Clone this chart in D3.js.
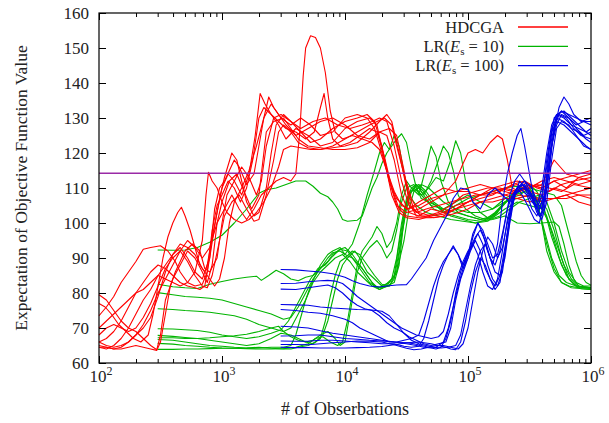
<!DOCTYPE html>
<html>
<head>
<meta charset="utf-8">
<script src="https://cdnjs.cloudflare.com/ajax/libs/d3/7.8.5/d3.min.js"></script>
<style>
  body { margin: 0; background: #fff; }
  svg { display: block; }
</style>
</head>
<body>
<div id="chart"></div>
<script>
// every run is a list of [log10(# of observations), expected objective value]
const hdcgaRuns = [
  [[2.0,73.5],[2.06,76],[2.12,79],[2.18,83],[2.24,86],[2.3,89],[2.36,92.5],[2.42,93],[2.5,93.5],[2.56,92],[2.62,89],[2.66,86],[2.72,83],[2.78,82],[2.84,82.5],[2.88,86],[2.92,98],[2.96,105],[3.0,108],[3.05,112],[3.1,110],[3.15,106],[3.2,110],[3.25,118],[3.3,130],[3.34,133],[3.4,131],[3.46,128],[3.52,124],[3.6,127],[3.7,125],[3.8,122],[3.9,123],[4.0,127],[4.1,129],[4.2,130],[4.26,128],[4.32,118],[4.38,108],[4.44,103],[4.5,101.5],[4.6,101],[4.7,102],[4.8,103],[4.9,105],[5.0,106],[5.1,108],[5.2,109],[5.3,110],[5.4,109],[5.5,111],[5.6,110],[5.7,112],[5.8,110],[5.9,113],[6.0,112]],
  [[2.0,79.5],[2.06,78],[2.12,75],[2.18,72],[2.24,70],[2.3,69],[2.36,67],[2.42,65],[2.47,63.8],[2.5,68],[2.54,78],[2.6,84],[2.66,88],[2.72,92],[2.78,90],[2.84,86],[2.88,83],[2.92,88],[2.96,100],[3.0,106],[3.06,112],[3.12,114],[3.18,109],[3.24,104],[3.3,108],[3.36,126],[3.42,129],[3.5,130],[3.56,127],[3.62,124],[3.7,122],[3.8,121.5],[3.9,121],[4.0,121],[4.1,121.5],[4.2,123],[4.28,126],[4.34,125],[4.4,118],[4.46,108],[4.52,103],[4.6,102],[4.7,104],[4.8,103],[4.9,104],[5.0,106],[5.1,107],[5.2,108],[5.3,110],[5.4,111],[5.5,109],[5.6,108],[5.7,110],[5.8,109],[5.9,108],[6.0,107]],
  [[2.0,77],[2.05,76],[2.1,74],[2.16,71],[2.22,69],[2.28,67],[2.34,66],[2.4,68],[2.44,74],[2.48,82],[2.52,90],[2.56,96],[2.6,100],[2.64,103],[2.67,104.5],[2.7,102],[2.74,98],[2.78,93],[2.82,88],[2.86,86],[2.9,90],[2.94,99],[2.98,107],[3.02,113],[3.08,120],[3.12,118],[3.16,112],[3.2,106],[3.26,102],[3.3,103],[3.36,110],[3.4,120],[3.44,128],[3.5,131],[3.56,129],[3.64,126],[3.72,123],[3.8,124],[3.9,127],[4.0,129],[4.1,130],[4.18,131],[4.24,129],[4.3,122],[4.36,112],[4.42,105],[4.5,103],[4.6,104],[4.7,106],[4.8,108],[4.9,109],[5.0,109],[5.1,108],[5.2,110],[5.3,109],[5.4,108],[5.5,107.5],[5.6,107],[5.7,107],[5.8,108],[5.9,109],[6.0,110]],
  [[2.0,66],[2.06,65],[2.12,64.5],[2.18,65],[2.24,66],[2.3,68],[2.36,71],[2.42,75],[2.48,80],[2.54,84],[2.6,88],[2.66,92],[2.72,95],[2.78,93],[2.84,90],[2.9,93],[2.96,100],[3.02,104],[3.08,108],[3.14,104],[3.2,101],[3.26,104],[3.32,108],[3.38,110],[3.44,112],[3.5,113],[3.56,112],[3.6,114],[3.63,125],[3.66,142],[3.68,150],[3.72,153.5],[3.76,153],[3.8,150],[3.84,143],[3.88,132],[3.92,126],[3.98,124],[4.06,125],[4.14,124],[4.22,123],[4.28,121],[4.34,115],[4.4,109],[4.46,105],[4.52,104],[4.6,106],[4.7,108],[4.8,110],[4.9,109],[5.0,110],[5.1,111],[5.2,110],[5.3,111],[5.4,112],[5.5,111],[5.6,110],[5.7,112],[5.8,113],[5.9,114],[6.0,115]],
  [[2.0,64.5],[2.06,64],[2.12,65],[2.18,67],[2.24,70],[2.3,74],[2.36,78],[2.42,81],[2.48,85],[2.54,88],[2.6,91],[2.66,93],[2.72,90],[2.78,86],[2.84,84],[2.88,88],[2.92,96],[2.96,103],[3.0,110],[3.05,114],[3.1,112],[3.16,108],[3.22,114],[3.27,125],[3.31,137],[3.35,134],[3.4,131],[3.46,129],[3.52,127],[3.6,126],[3.68,124],[3.75,126],[3.8,133],[3.83,137],[3.86,130],[3.9,124],[3.96,122],[4.04,123],[4.12,125],[4.2,127],[4.26,126],[4.32,119],[4.38,110],[4.44,104],[4.5,102],[4.6,101.5],[4.7,101.5],[4.8,102],[4.9,104],[5.0,106],[5.1,108],[5.2,109],[5.3,108],[5.4,109],[5.5,110],[5.6,111],[5.7,118],[5.75,116],[5.8,114],[5.9,113],[6.0,114]],
  [[2.0,65],[2.06,64.5],[2.12,64],[2.18,64.5],[2.24,66],[2.3,68],[2.36,70],[2.42,73],[2.48,79],[2.54,86],[2.6,91],[2.66,94],[2.72,93],[2.78,91],[2.84,87],[2.9,84],[2.94,82],[2.98,84],[3.02,90],[3.06,100],[3.1,106],[3.16,110],[3.22,115],[3.28,122],[3.34,130],[3.4,134],[3.46,131],[3.52,128],[3.6,125],[3.7,127],[3.8,129],[3.9,130],[4.0,128],[4.1,125],[4.2,124],[4.28,126],[4.36,127],[4.42,125],[4.48,115],[4.52,106],[4.58,102],[4.66,102],[4.76,103],[4.86,105],[4.96,108],[5.06,109],[5.16,110],[5.26,110],[5.36,109],[5.46,110],[5.56,111],[5.66,110],[5.76,109],[5.86,111],[6.0,110]],
  [[2.0,68],[2.06,70],[2.12,71],[2.18,70],[2.24,69],[2.3,70],[2.36,73],[2.42,77],[2.48,82],[2.54,87],[2.6,90],[2.66,92],[2.72,89],[2.78,85],[2.84,82],[2.88,81.5],[2.92,85],[2.98,95],[3.02,102],[3.08,106],[3.14,108],[3.2,104],[3.26,100.5],[3.3,101],[3.36,108],[3.42,118],[3.46,126],[3.5,128],[3.56,126],[3.62,123],[3.7,121.5],[3.8,121],[3.9,121.5],[4.0,122],[4.1,123],[4.2,126],[4.28,129],[4.34,131],[4.38,129],[4.44,120],[4.5,110],[4.56,104],[4.62,102],[4.72,101.5],[4.82,102],[4.92,103],[5.0,104],[5.1,106],[5.2,107],[5.3,108],[5.4,107],[5.5,108],[5.6,106],[5.7,107],[5.8,108],[5.9,106],[6.0,105]],
  [[2.0,66],[2.06,67],[2.12,69],[2.18,72],[2.24,76],[2.3,80],[2.36,83],[2.42,86],[2.48,88],[2.54,87],[2.6,85],[2.66,83],[2.72,82],[2.78,81.5],[2.82,81],[2.86,82],[2.9,90],[2.94,104],[2.98,110],[3.02,112],[3.06,115],[3.1,118],[3.14,116],[3.2,111],[3.26,114],[3.3,122],[3.34,130],[3.38,136],[3.42,133],[3.48,130],[3.56,128],[3.64,130],[3.72,128],[3.8,125],[3.9,126],[4.0,130],[4.1,131],[4.18,130],[4.24,127],[4.3,120],[4.36,112],[4.42,107],[4.5,104],[4.6,105],[4.7,107],[4.8,108],[4.9,112],[4.96,117],[5.0,120],[5.06,121],[5.12,120],[5.18,123],[5.24,125],[5.28,124],[5.32,118],[5.36,110],[5.42,109],[5.5,110],[5.6,112],[5.7,113],[5.8,112],[5.9,111],[6.0,112]],
  [[2.0,64.5],[2.06,64.5],[2.12,64],[2.18,64],[2.24,64.5],[2.3,65],[2.36,64.5],[2.42,64],[2.47,63.6],[2.5,66],[2.54,74],[2.58,82],[2.62,86],[2.66,89],[2.7,92],[2.76,94],[2.82,92],[2.86,87],[2.9,86],[2.96,90],[3.0,100],[3.04,108],[3.1,112],[3.16,116],[3.22,113],[3.28,108],[3.32,112],[3.36,122],[3.42,130],[3.48,131],[3.56,129],[3.64,127],[3.74,129],[3.84,130],[3.94,128],[4.04,127],[4.14,128],[4.22,129],[4.28,130],[4.34,129],[4.4,122],[4.46,112],[4.52,105],[4.58,103],[4.66,104],[4.76,105],[4.86,106],[4.96,107],[5.06,108],[5.16,108],[5.26,109],[5.36,111],[5.46,112],[5.56,110],[5.66,109],[5.76,111],[5.86,112],[6.0,113]],
  [[2.0,70],[2.06,72],[2.12,74],[2.18,76],[2.24,78],[2.3,80],[2.36,81],[2.42,83],[2.48,85],[2.54,84],[2.6,83],[2.66,82],[2.72,83],[2.78,86],[2.84,95],[2.87,108],[2.89,114.5],[2.92,112],[2.96,110],[3.0,106],[3.04,103],[3.1,101],[3.16,100],[3.22,101],[3.28,103],[3.34,106],[3.4,110],[3.46,116],[3.5,121],[3.56,122],[3.64,121.5],[3.72,121],[3.8,121],[3.9,122],[4.0,124],[4.1,126],[4.2,128],[4.26,129],[4.32,130],[4.38,128],[4.42,122],[4.48,114],[4.54,107],[4.6,103],[4.7,102],[4.8,102.5],[4.9,104],[5.0,105],[5.1,106],[5.2,106],[5.3,107],[5.4,107],[5.5,106],[5.6,107],[5.7,107],[5.8,107],[5.9,108],[6.0,108]]
];

const lr10Runs = [
  [[2.477,92.3],[2.6,92.2],[2.7,92.3],[2.8,93],[2.9,94.5],[3.0,96.5],[3.1,100],[3.2,104],[3.3,108.5],[3.36,109.5],[3.44,110],[3.52,111],[3.6,112],[3.68,112],[3.74,110.5],[3.8,108.5],[3.86,107.5],[3.9,106],[3.94,104],[3.98,101],[4.02,100.5],[4.1,100.8],[4.14,102],[4.18,106],[4.22,110],[4.26,113],[4.3,117],[4.34,120],[4.38,122],[4.42,124],[4.46,125.5],[4.5,123],[4.54,116],[4.58,110],[4.62,107],[4.68,106],[4.74,105],[4.8,103],[4.9,102],[5.0,101],[5.1,100.5],[5.2,101],[5.3,102],[5.4,100],[5.5,99.8],[5.6,100],[5.7,100.3],[5.74,99],[5.78,94],[5.82,88],[5.86,84],[5.9,82],[5.95,81.5],[6.0,81.5]],
  [[2.477,82.5],[2.6,81.8],[2.7,81.5],[2.8,81.3],[2.9,82.5],[3.0,83.3],[3.1,84],[3.2,84.5],[3.28,84.8],[3.32,83.6],[3.38,85],[3.44,86.5],[3.5,85.5],[3.56,84],[3.62,83.5],[3.68,84.5],[3.74,85],[3.8,87],[3.86,89],[3.9,91],[3.96,92.5],[4.0,93],[4.06,91],[4.12,88],[4.18,85],[4.24,82],[4.3,81.5],[4.36,82],[4.4,84],[4.44,92],[4.48,102],[4.52,108],[4.56,110],[4.6,111],[4.66,109],[4.72,106],[4.8,104],[4.9,103],[5.0,102],[5.1,101],[5.2,102],[5.28,105],[5.36,108],[5.44,110],[5.5,111],[5.56,109],[5.62,104],[5.68,96],[5.74,90],[5.8,85],[5.86,82.5],[5.92,81.2],[6.0,81]],
  [[2.477,80.1],[2.6,79.5],[2.7,79],[2.8,78.8],[2.9,78.5],[3.0,78],[3.1,77],[3.2,76],[3.3,75],[3.4,74],[3.5,72.5],[3.56,73],[3.62,76],[3.68,80],[3.74,84],[3.8,87],[3.86,90],[3.9,91.5],[3.96,92],[4.0,91],[4.06,94],[4.12,100],[4.18,108],[4.24,115],[4.28,120],[4.32,123],[4.36,121],[4.4,125],[4.44,122],[4.48,114],[4.52,108],[4.58,105],[4.66,103],[4.76,102],[4.86,101],[4.96,100.5],[5.06,100],[5.16,101],[5.26,104],[5.34,107],[5.42,108],[5.5,110],[5.56,107],[5.6,100],[5.64,92],[5.7,86],[5.76,83],[5.82,82],[5.9,81.5],[6.0,81.5]],
  [[2.477,75.5],[2.6,75.3],[2.7,75],[2.8,74.8],[2.9,74.5],[3.0,74],[3.1,73.5],[3.2,72.5],[3.3,71],[3.4,70],[3.5,69],[3.56,70],[3.62,74],[3.68,78],[3.74,83],[3.8,86],[3.86,88],[3.92,90],[3.98,91],[4.04,89],[4.1,86],[4.16,84],[4.22,82],[4.28,81],[4.34,82],[4.4,83],[4.44,88],[4.47,98],[4.5,106],[4.54,110],[4.58,111],[4.64,108],[4.7,112],[4.76,118],[4.8,122],[4.84,120],[4.88,115],[4.92,108],[4.98,104],[5.06,102],[5.14,101],[5.22,103],[5.3,106],[5.38,108],[5.46,109],[5.52,108],[5.58,106],[5.64,102],[5.7,95],[5.76,88],[5.82,84],[5.88,82],[5.94,81.5],[6.0,81.2]],
  [[2.477,69.8],[2.6,69.7],[2.7,69.5],[2.8,69.3],[2.9,68.8],[3.0,68],[3.1,67.5],[3.2,67],[3.3,67.5],[3.4,68.5],[3.48,69.5],[3.54,72],[3.6,76],[3.66,80],[3.72,84],[3.78,87],[3.84,88],[3.9,90.5],[3.96,92.5],[4.02,92],[4.08,89],[4.14,86],[4.2,83],[4.26,81.5],[4.32,82],[4.38,84],[4.42,90],[4.46,100],[4.5,107],[4.56,110],[4.62,108],[4.68,110],[4.74,113],[4.8,112],[4.86,118],[4.9,123.5],[4.94,120],[4.98,112],[5.04,106],[5.1,103],[5.18,101],[5.26,102],[5.34,104],[5.42,106],[5.5,107],[5.58,108],[5.64,106],[5.7,100],[5.76,92],[5.82,86],[5.88,83],[5.94,82],[6.0,82]],
  [[2.477,67.9],[2.6,67.6],[2.7,67.3],[2.8,67],[2.9,66.5],[3.0,66],[3.1,65.5],[3.2,65],[3.3,65.5],[3.4,67],[3.48,68.5],[3.56,68],[3.62,67],[3.68,66],[3.74,65.5],[3.8,67],[3.84,72],[3.88,79],[3.92,85],[3.96,89],[4.0,90],[4.06,92],[4.12,91],[4.18,88],[4.24,85],[4.3,82.5],[4.36,82],[4.42,86],[4.46,96],[4.5,104],[4.54,109],[4.6,110],[4.66,107],[4.72,104],[4.8,103],[4.9,105],[5.0,107],[5.1,108],[5.2,109],[5.3,110],[5.4,110.5],[5.5,109],[5.56,106],[5.62,98],[5.68,90],[5.74,85],[5.8,83],[5.88,82],[6.0,81.5]],
  [[2.477,66.7],[2.6,66.5],[2.7,66],[2.8,65.5],[2.9,65],[3.0,64.8],[3.1,64.5],[3.2,64.3],[3.3,64.3],[3.4,64.5],[3.5,64.5],[3.56,65],[3.6,68],[3.64,73],[3.68,78],[3.72,82],[3.76,85],[3.8,88],[3.86,91],[3.9,92],[3.96,93],[4.0,91],[4.06,90],[4.14,87],[4.22,83],[4.28,81],[4.34,82],[4.4,85],[4.44,94],[4.48,103],[4.52,108],[4.58,111],[4.64,109],[4.7,106],[4.78,104],[4.86,102],[4.96,101],[5.06,100],[5.16,100.5],[5.24,103],[5.3,106],[5.38,108],[5.46,110],[5.52,109],[5.58,103],[5.64,94],[5.7,87],[5.76,83],[5.84,81.5],[6.0,81]],
  [[2.477,65.6],[2.6,65.4],[2.7,65],[2.8,64.8],[2.9,64.5],[3.0,64.3],[3.1,64.2],[3.2,64.3],[3.3,64.5],[3.4,64.2],[3.5,64],[3.56,64],[3.62,64.5],[3.7,65],[3.76,66],[3.82,68],[3.86,72],[3.9,78],[3.94,84],[3.98,88],[4.02,90],[4.08,92],[4.12,90],[4.18,86],[4.24,84],[4.3,82],[4.36,83],[4.42,86],[4.48,95],[4.52,104],[4.56,109],[4.62,111],[4.68,110],[4.74,108],[4.8,106],[4.9,104],[5.0,103],[5.1,103],[5.2,104],[5.3,106],[5.4,107],[5.5,108],[5.58,107],[5.64,104],[5.7,98],[5.76,90],[5.82,84],[5.88,82],[6.0,81.5]],
  [[2.477,63.9],[2.6,63.9],[2.7,64],[2.8,64],[2.9,64.1],[3.0,64.2],[3.1,64.2],[3.2,64.1],[3.3,64],[3.4,64],[3.5,64.1],[3.6,64.5],[3.7,65.5],[3.76,67],[3.82,67.5],[3.88,66],[3.94,65],[3.98,66],[4.02,72],[4.06,80],[4.1,88],[4.14,92],[4.18,94],[4.22,96],[4.26,99],[4.3,97],[4.34,93],[4.38,95],[4.42,100],[4.46,108],[4.5,112],[4.54,110],[4.6,108],[4.66,116],[4.7,122],[4.74,119],[4.78,112],[4.84,106],[4.92,103],[5.0,102],[5.1,101],[5.2,101.5],[5.3,104],[5.4,106],[5.5,105],[5.6,104],[5.66,100],[5.72,94],[5.78,88],[5.84,84],[5.9,82],[6.0,81.5]],
  [[2.477,67.2],[2.6,67.2],[2.7,67],[2.8,67],[2.9,67.2],[3.0,67.5],[3.1,67.8],[3.2,68.2],[3.3,69],[3.4,70],[3.46,70.5],[3.5,69],[3.56,67.5],[3.62,66.5],[3.68,66],[3.74,66.5],[3.8,68],[3.86,69],[3.92,67],[3.96,65],[4.0,66],[4.02,70],[4.06,78],[4.1,86],[4.14,90],[4.2,93],[4.26,95],[4.3,93],[4.34,90],[4.38,92],[4.42,98],[4.46,106],[4.5,110],[4.56,111],[4.62,108],[4.7,105],[4.8,104],[4.9,106],[5.0,108],[5.1,106],[5.2,104],[5.3,107],[5.4,109],[5.5,110],[5.6,109],[5.7,108],[5.76,105],[5.82,97],[5.88,89],[5.92,85],[5.96,83],[6.0,82.2]]
];

const lr100Runs = [
  [[3.477,86.7],[3.6,86.6],[3.7,86.3],[3.8,86],[3.9,85.5],[4.0,84.5],[4.06,83.5],[4.12,82.7],[4.2,82],[4.28,81.7],[4.34,82],[4.42,82.3],[4.5,82.4],[4.54,84],[4.6,87],[4.66,90],[4.72,95],[4.78,99],[4.84,103],[4.88,107],[4.94,110],[5.0,109.5],[5.04,106],[5.1,104],[5.16,108],[5.22,110],[5.28,108],[5.34,106],[5.4,110],[5.46,111],[5.5,108],[5.56,105],[5.6,110],[5.64,120],[5.68,128],[5.72,131],[5.78,130],[5.84,128],[5.9,127],[5.96,126],[6.0,125]],
  [[3.477,82.7],[3.6,82.8],[3.7,83.2],[3.8,83.5],[3.86,83.6],[3.92,83.4],[3.98,82.7],[4.04,81],[4.1,79],[4.16,77.5],[4.22,76],[4.28,74.5],[4.34,73],[4.4,71.5],[4.46,70],[4.52,69],[4.58,68],[4.64,67.5],[4.7,67],[4.76,67.5],[4.8,69],[4.84,74],[4.88,80],[4.92,85],[4.96,89],[5.0,92],[5.04,94],[5.08,91],[5.12,86],[5.16,82],[5.2,81],[5.24,84],[5.28,92],[5.32,101],[5.36,107],[5.42,110],[5.48,108],[5.52,104],[5.56,102],[5.6,106],[5.64,118],[5.68,127],[5.72,130],[5.78,129],[5.84,127],[5.9,126],[5.96,124],[6.0,123]],
  [[3.477,81.1],[3.6,81],[3.7,81.5],[3.8,82],[3.86,82.3],[3.92,81.5],[3.98,80],[4.04,78],[4.1,76.5],[4.16,75.5],[4.22,75],[4.28,73.5],[4.34,71.5],[4.4,70],[4.46,69],[4.52,67.5],[4.58,66.5],[4.64,65.5],[4.7,65],[4.76,65.5],[4.82,66],[4.86,70],[4.9,78],[4.94,84],[4.98,88],[5.02,92],[5.06,95],[5.1,92],[5.14,87],[5.18,84],[5.22,82],[5.26,85],[5.3,93],[5.34,102],[5.38,109],[5.44,111],[5.5,109],[5.56,106],[5.6,104],[5.64,110],[5.68,122],[5.72,128],[5.76,131],[5.82,130],[5.88,128],[5.94,129],[6.0,128]],
  [[3.477,76.7],[3.6,76.6],[3.7,76.5],[3.8,76],[3.9,75.7],[4.0,75.5],[4.1,75.3],[4.2,75.2],[4.3,74.8],[4.36,73.5],[4.42,71],[4.48,68.5],[4.54,66.5],[4.6,65.5],[4.66,65],[4.72,64.5],[4.78,64.3],[4.84,64.5],[4.9,65],[4.94,68],[4.98,75],[5.02,82],[5.06,88],[5.1,92],[5.14,94],[5.18,90],[5.22,86],[5.26,85],[5.3,90],[5.34,100],[5.38,108],[5.42,112],[5.46,110],[5.52,106],[5.58,104],[5.62,108],[5.66,118],[5.7,126],[5.74,133],[5.78,136],[5.82,134],[5.86,131],[5.92,129],[6.0,130]],
  [[3.477,75.3],[3.6,75],[3.7,74.5],[3.8,74.2],[3.9,73.5],[4.0,72.5],[4.06,71.5],[4.12,70],[4.18,69],[4.24,68],[4.3,67],[4.36,66],[4.42,66],[4.48,66.5],[4.54,67],[4.6,68],[4.64,72],[4.68,77],[4.72,82],[4.76,86],[4.8,89],[4.84,91],[4.88,93],[4.92,91],[4.96,88],[5.0,91],[5.04,97],[5.08,100],[5.12,98],[5.16,94],[5.2,90],[5.24,91],[5.28,97],[5.32,104],[5.36,108],[5.4,110],[5.44,108],[5.5,104],[5.54,101],[5.58,100],[5.62,107],[5.66,121],[5.7,130],[5.76,132],[5.82,130],[5.88,127],[5.94,125],[6.0,126]],
  [[3.477,70.5],[3.6,70.3],[3.7,70],[3.8,69.2],[3.9,68.5],[4.0,68],[4.1,67.5],[4.2,67],[4.3,66.5],[4.4,66],[4.5,65.8],[4.56,65.5],[4.62,65],[4.68,64.5],[4.74,64.5],[4.8,66],[4.84,70],[4.88,76],[4.92,82],[4.96,87],[5.0,91],[5.04,94],[5.08,97],[5.12,94],[5.16,88],[5.2,84],[5.24,82],[5.28,86],[5.32,96],[5.36,105],[5.4,110],[5.46,112],[5.52,110],[5.56,106],[5.6,104],[5.64,112],[5.68,124],[5.72,131],[5.78,132],[5.84,130],[5.9,128],[5.96,126],[6.0,127]],
  [[3.477,67.7],[3.6,67.8],[3.7,68],[3.8,68],[3.9,67.5],[4.0,67],[4.1,66.8],[4.2,66.5],[4.3,66.3],[4.4,66],[4.5,65.5],[4.58,65],[4.64,64.5],[4.7,64.3],[4.74,64],[4.78,64.5],[4.82,67],[4.86,72],[4.9,80],[4.94,86],[4.98,90],[5.02,93],[5.06,96],[5.1,98],[5.14,95],[5.18,90],[5.22,88],[5.26,92],[5.3,100],[5.34,108],[5.38,112],[5.42,114],[5.46,112],[5.52,108],[5.56,104],[5.6,108],[5.64,116],[5.68,126],[5.72,129],[5.78,128],[5.84,126],[5.9,124],[5.96,122],[6.0,121]],
  [[3.477,66.3],[3.6,66.2],[3.7,66.2],[3.8,66.5],[3.9,66.5],[4.0,66.3],[4.1,66],[4.2,65.8],[4.3,65.5],[4.4,65.5],[4.48,64.8],[4.54,64.5],[4.6,64.8],[4.64,67],[4.68,72],[4.72,78],[4.76,84],[4.8,88],[4.84,91],[4.88,93.5],[4.92,91],[4.96,87],[5.0,90],[5.04,96],[5.08,100],[5.12,97],[5.16,92],[5.2,88],[5.24,94],[5.28,106],[5.32,114],[5.36,120],[5.4,125],[5.43,127],[5.46,122],[5.5,114],[5.54,106],[5.58,102],[5.62,104],[5.66,115],[5.7,127],[5.74,131],[5.8,130],[5.86,127],[5.92,125],[6.0,124]],
  [[3.477,65.3],[3.6,65.3],[3.7,65.2],[3.8,65.5],[3.9,65.8],[4.0,66],[4.1,66.3],[4.2,66.2],[4.3,66],[4.4,65.2],[4.5,64.2],[4.56,63.8],[4.62,64],[4.68,64.5],[4.74,65],[4.8,65],[4.86,64.5],[4.92,64],[4.96,65.5],[5.0,70],[5.04,78],[5.08,86],[5.12,92],[5.16,96],[5.2,94],[5.24,90],[5.28,93],[5.32,100],[5.36,106],[5.4,110],[5.46,111],[5.52,107],[5.56,103],[5.6,101],[5.64,106],[5.68,118],[5.72,127],[5.76,129],[5.82,128],[5.88,125],[5.94,122],[6.0,121]],
  [[3.477,64.5],[3.6,64.4],[3.7,64.4],[3.8,64.3],[3.9,64.3],[4.0,64.3],[4.1,64.4],[4.2,64.5],[4.3,64.7],[4.4,65.2],[4.5,65.8],[4.6,66],[4.7,65.5],[4.76,65],[4.82,64.5],[4.86,64],[4.9,63.8],[4.94,66],[4.98,72],[5.02,80],[5.06,86],[5.1,90],[5.14,88],[5.18,84],[5.22,81],[5.26,83],[5.3,92],[5.34,102],[5.38,108],[5.44,110],[5.5,109],[5.56,104],[5.6,102],[5.64,110],[5.68,122],[5.72,130],[5.76,132],[5.82,131],[5.88,130],[5.94,129],[6.0,129]]
];

const referenceValue = 114.2;
const yTicks = [60, 70, 80, 90, 100, 110, 120, 130, 140, 150, 160];
const xDecades = [2, 3, 4, 5, 6];
const legendNames = ["HDCGA", "LR(Es = 10)", "LR(Es = 100)"];

function drawChart({width, height, id}) {
    const red = "#ff0000";
    const green = "#00b400";
    const blue = "#0000e6";
    const font = "'Liberation Serif', 'DejaVu Serif', serif";

    var dimensions = {
        width,
        height,
        margin: {top: 13, right: 18, bottom: 60, left: 99}
    }
    dimensions.boundedWidth = dimensions.width - dimensions.margin.left - dimensions.margin.right
    dimensions.boundedHeight = dimensions.height - dimensions.margin.top - dimensions.margin.bottom

    const svg = d3.select('#' + id).append('svg')
        .attr('width', width)
        .attr('height', height)
        .style('font-family', font)

    const bounds = svg.append('g')
        .attr('transform', `translate(${dimensions.margin.left},${dimensions.margin.top})`)

    const x = d3.scaleLog().domain([100, 1e6]).range([0, dimensions.boundedWidth])
    const y = d3.scaleLinear().domain([60, 160]).range([dimensions.boundedHeight, 0])

    const line = d3.line()
        .x(d => x(Math.pow(10, d[0])))
        .y(d => y(d[1]))

    // runs, drawn family by family
    const families = [
        {runs: lr10Runs, color: green},
        {runs: hdcgaRuns, color: red},
        {runs: lr100Runs, color: blue}
    ]
    families.forEach(f => {
        bounds.append('g').selectAll('path')
            .data(f.runs)
            .enter()
            .append('path')
            .attr('d', line)
            .attr('fill', 'none')
            .attr('stroke', f.color)
            .attr('stroke-width', 1.1)
            .attr('stroke-linejoin', 'round')
    })

    // reference value
    bounds.append('line')
        .attr('x1', 0).attr('x2', dimensions.boundedWidth)
        .attr('y1', y(referenceValue)).attr('y2', y(referenceValue))
        .attr('stroke', '#9a2aa6')
        .attr('stroke-width', 1.6)

    // ticks, pointing inwards on all four sides
    const majors = xDecades.map(e => Math.pow(10, e))
    const minors = []
    xDecades.slice(0, -1).forEach(e => {
        for (let k = 2; k < 10; k++) minors.push(k * Math.pow(10, e))
    })
    const tickStyle = g => {
        g.select('.domain').remove()
        g.selectAll('line').attr('stroke', '#000')
        g.selectAll('text').remove()
    }
    bounds.append('g').attr('transform', `translate(0,${dimensions.boundedHeight})`)
        .call(d3.axisBottom(x).tickValues(majors).tickSize(-7)).call(tickStyle)
    bounds.append('g').attr('transform', `translate(0,${dimensions.boundedHeight})`)
        .call(d3.axisBottom(x).tickValues(minors).tickSize(-4)).call(tickStyle)
    bounds.append('g')
        .call(d3.axisTop(x).tickValues(majors).tickSize(-7)).call(tickStyle)
    bounds.append('g')
        .call(d3.axisTop(x).tickValues(minors).tickSize(-4)).call(tickStyle)
    bounds.append('g').attr('transform', `translate(${dimensions.boundedWidth},0)`)
        .call(d3.axisRight(y).tickValues(yTicks).tickSize(-7)).call(tickStyle)

    const yAxis = bounds.append('g')
        .call(d3.axisLeft(y).tickValues(yTicks).tickSize(-7).tickPadding(10))
    yAxis.select('.domain').remove()
    yAxis.selectAll('line').attr('stroke', '#000')
    yAxis.selectAll('text')
        .style('font-family', font)
        .style('font-size', '17px')
        .attr('fill', '#222')

    // x tick labels as powers of ten
    const xLabels = bounds.append('g').selectAll('text')
        .data(xDecades)
        .enter()
        .append('text')
        .attr('x', d => x(Math.pow(10, d)) + 2)
        .attr('y', dimensions.boundedHeight + 19)
        .attr('text-anchor', 'middle')
        .style('font-size', '17px')
        .attr('fill', '#222')
    xLabels.append('tspan').text('10')
    xLabels.append('tspan').attr('dy', -7).style('font-size', '12px').text(d => d)

    // frame
    bounds.append('rect')
        .attr('width', dimensions.boundedWidth)
        .attr('height', dimensions.boundedHeight)
        .attr('fill', 'none')
        .attr('stroke', '#000')
        .attr('stroke-width', 1.2)

    // axis titles
    svg.append('text')
        .attr('transform', `translate(27,${dimensions.margin.top + dimensions.boundedHeight / 2}) rotate(-90)`)
        .attr('text-anchor', 'middle')
        .style('font-size', '17.5px')
        .attr('fill', '#222')
        .text('Expectation of Objective Function Value')
    svg.append('text')
        .attr('x', dimensions.margin.left + dimensions.boundedWidth / 2)
        .attr('y', 415)
        .attr('text-anchor', 'middle')
        .style('font-size', '18px')
        .attr('fill', '#222')
        .text('# of Obserbations')

    // Legend section
    var legendData = [
        {name: legendNames[0], color: red},
        {name: legendNames[1], color: green},
        {name: legendNames[2], color: blue}
    ]
    var legend = svg.append('g').attr('transform', 'translate(504,27)')
        .selectAll('.legend').data(legendData).enter().append('g')
        .attr('class', 'legend')
        .attr('transform', (d, i) => `translate(0,${i * 19.3})`)

    legend.append('line')
        .attr('x1', 14).attr('x2', 64)
        .attr('stroke', d => d.color)
        .attr('stroke-width', 1.3)

    const legendText = legend.append('text')
        .attr('text-anchor', 'end')
        .attr('y', 5.5)
        .style('font-size', '16.5px')
        .attr('fill', '#222')
    legendText.each(function (d) {
        const t = d3.select(this)
        const m = d.name.match(/^LR\(Es = (\d+)\)$/)
        if (!m) { t.text(d.name); return }
        t.append('tspan').text('LR(')
        t.append('tspan').style('font-style', 'italic').text('E')
        t.append('tspan').attr('dy', 3).style('font-size', '11px').text('s')
        t.append('tspan').attr('dy', -3).text(` = ${m[1]})`)
    })

    return {}
}

drawChart({width: 609, height: 423, id: 'chart'})
</script>
</body>
</html>
